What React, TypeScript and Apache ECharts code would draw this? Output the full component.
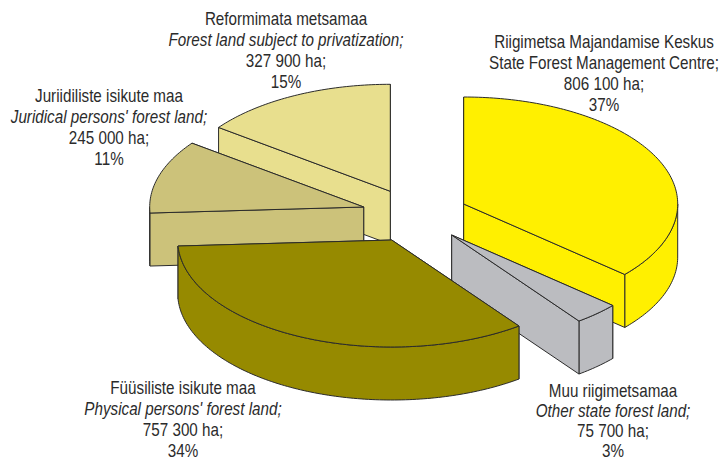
import React, { useEffect, useRef } from "react";
import * as echarts from "echarts";

const namesEt = ["Riigimetsa Majandamise Keskus", "Muu riigimetsamaa", "Füüsiliste isikute maa", "Juriidiliste isikute maa", "Reformimata metsamaa"];
const namesEn = ["State Forest Management Centre;", "Other state forest land;", "Physical persons' forest land;", "Juridical persons' forest land;", "Forest land subject to privatization;"];
const areaLabels = ["806 100 ha;", "75 700 ha;", "757 300 ha;", "245 000 ha;", "327 900 ha;"];
const percentLabels = ["37%", "3%", "34%", "11%", "15%"];
const hectares = [806100, 75700, 757300, 245000, 327900];

const colors = ["#FFF000", "#BBBCC0", "#968A00", "#CCC27A", "#E8DF8E"];
const drawOrder = [4, 3, 0, 1, 2];
const apexes = [[463.7, 204], [451.7, 235], [391.7, 240], [363.7, 207], [390.3, 191.3]];
const labelPos = [[604, 42], [613, 391], [183, 388], [109, 96], [286, 19]];
const labelLine = [21, 20, 21, 21, 21];
const italicEnglish = [false, true, true, true, true];
const RX = 214, RY = 107, DEPTH = 53;
const STROKE = "#2b2b2b";
const FONT = '"Liberation Sans", Arial, sans-serif';

const total = hectares.reduce((a, b) => a + b, 0);

function arc(cx: number, cy: number, a: number, b: number) {
  const pts: number[][] = [];
  const n = Math.max(2, Math.ceil(Math.abs(b - a) / 1));
  for (let k = 0; k <= n; k++) {
    const t = ((a + ((b - a) * k) / n) * Math.PI) / 180;
    pts.push([cx + RX * Math.sin(t), cy - RY * Math.cos(t)]);
  }
  return pts;
}

function renderItem(_params: any, api: any) {
  const idx = api.value(0);
  const before = hectares.slice(0, idx).reduce((a, b) => a + b, 0);
  const t0 = (before / total) * 360;
  const t1 = ((before + api.value(1)) / total) * 360;
  const [cx, cy] = apexes[idx];
  const style = { fill: colors[idx], stroke: STROKE, lineWidth: 1, lineJoin: "round" };
  const poly = (points: number[][]) => ({ type: "polygon", shape: { points }, style, silent: true });
  const wall = (t: number) => {
    const p = arc(cx, cy, t, t)[0];
    return poly([[cx, cy], p, [p[0], p[1] + DEPTH], [cx, cy + DEPTH]]);
  };
  const s0 = Math.sin((t0 * Math.PI) / 180) < -1e-6;
  const s1 = Math.sin((t1 * Math.PI) / 180) > 1e-6;
  const children: any[] = [];
  if (!s0) children.push(wall(t0));
  if (!s1) children.push(wall(t1));
  const ra = Math.max(t0, 90), rb = Math.min(t1, 270);
  if (rb > ra) {
    const upper = arc(cx, cy, ra, rb);
    const lower = arc(cx, cy + DEPTH, rb, ra);
    children.push(poly([...upper, ...lower]));
  }
  if (s0) children.push(wall(t0));
  if (s1) children.push(wall(t1));
  children.push(poly([[cx, cy], ...arc(cx, cy, t0, t1)]));
  return { type: "group", children };
}

function labelElements() {
  const out: any[] = [];
  namesEt.forEach((_, i) => {
    const lines = [namesEt[i], namesEn[i], areaLabels[i], percentLabels[i]];
    lines.forEach((text, j) => {
      out.push({
        type: "text",
        x: labelPos[i][0],
        y: labelPos[i][1] + j * labelLine[i],
        scaleX: 0.845,
        silent: true,
        z: 10,
        style: {
          text,
          fill: "#2b2b2b",
          align: "center",
          verticalAlign: "middle",
          font: `${j === 1 && italicEnglish[i] ? "italic " : ""}18px ${FONT}`,
        },
      });
    });
  });
  return out;
}

export default function App() {
  const ref = useRef<HTMLDivElement>(null);
  useEffect(() => {
    document.body.style.margin = "0";
    const chart = echarts.init(ref.current!, undefined, { renderer: "svg" });
    chart.setOption({
      animation: false,
      backgroundColor: "#ffffff",
      graphic: { elements: labelElements() },
      series: [
        {
          type: "custom",
          coordinateSystem: "none",
          renderItem,
          silent: true,
          data: drawOrder.map((i) => [i, hectares[i]]),
        },
      ],
    });
    return () => chart.dispose();
  }, []);
  return <div ref={ref} style={{ width: 721, height: 460 }} />;
}
